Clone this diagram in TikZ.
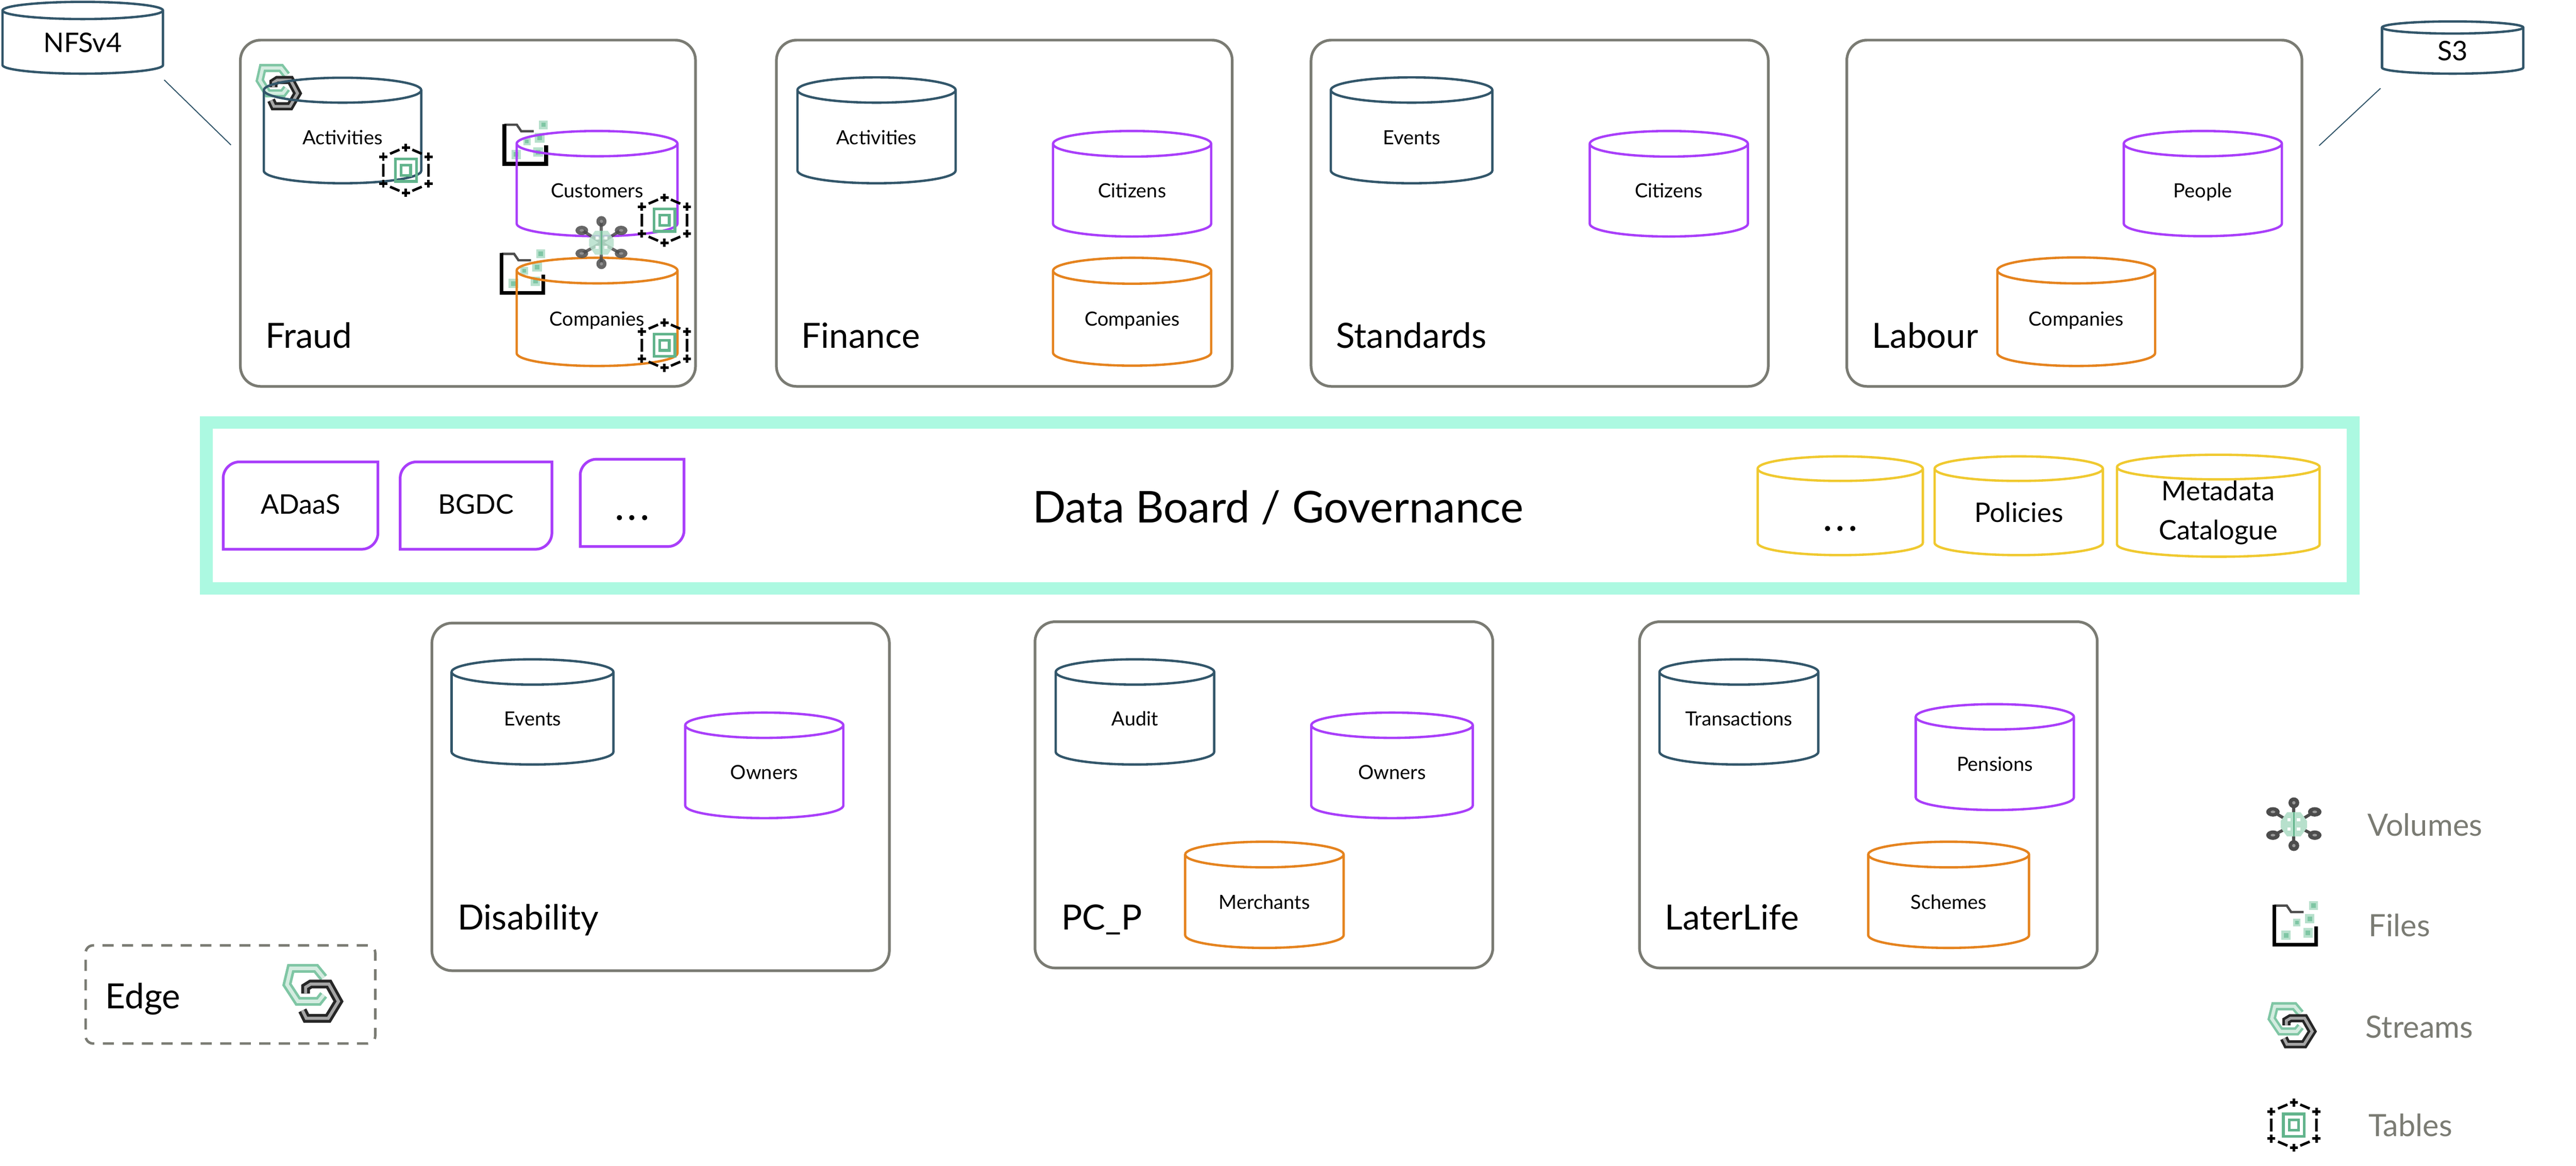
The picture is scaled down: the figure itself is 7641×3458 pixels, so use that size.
\documentclass[tikz,border=0pt]{standalone}
\usepackage{fontspec}
\setmainfont{Lato}
\usetikzlibrary{shapes.geometric}
\definecolor{dbdark}{HTML}{32566A}
\definecolor{dbpurple}{HTML}{A93EFA}
\definecolor{dborange}{HTML}{E5831E}
\definecolor{dbyellow}{HTML}{F0C92F}
\definecolor{mintbar}{HTML}{ACF9E1}
\definecolor{boxgrey}{HTML}{7A7B73}
\definecolor{icongreen}{HTML}{62B48C}
\definecolor{iconlight}{HTML}{B7E0CC}
\definecolor{iconmid}{HTML}{7FC6A4}
\tikzset{
  areabox/.style={draw=boxgrey,line width=8pt,rectangle,rounded corners=60pt,inner sep=0pt},
  title/.style={anchor=base west,inner sep=0pt,font=\fontsize{103}{124}\selectfont},
  dbcyl/.style={cylinder,shape border rotate=90,anchor=shape center,line width=7pt,inner sep=0pt,
    align=center,font=\fontsize{58}{70}\selectfont,text height=42pt,text depth=0pt},
  bigcyl/.style={font=\fontsize{80}{116}\selectfont,text height=57pt},
  rolelabel/.style={anchor=base,inner sep=0pt,font=\fontsize{80}{96}\selectfont},
  legendtext/.style={anchor=base west,inner sep=0pt,text=boxgrey,font=\fontsize{91}{110}\selectfont},
  link/.style={draw=dbdark,line width=3pt},
}
\newcommand\bigdots{{\fontsize{120}{120}\selectfont.\kern9pt.\kern9pt.}}
% name, x1, x2, y1, y2, title, title x, title baseline
\newcommand\areabx[8]{%
  \pgfmathsetmacro\abw{#3-#2}\pgfmathsetmacro\abh{#5-#4}%
  \node[areabox,minimum width=\abw pt,minimum height=\abh pt] (#1) at ({(#2+#3)/2},{(#4+#5)/2}) {};
  \node[title] (#1title) at (#7,#8) {#6};
}
% [opts], name, x1, x2, y1, y-of-ellipse-bottom, y2, colour, text
\newcommand\dbcyln[9][]{%
  \pgfmathsetmacro\dbw{#4-#3-7}\pgfmathsetmacro\dbh{#7-#5-7}%
  \pgfmathsetmacro\dbry{(#6-#5-7)/2}\pgfmathsetmacro\dbasp{\dbry/(\dbw/2)}%
  \node[dbcyl,draw=#8,text width=\dbw pt,minimum width=\dbw pt,minimum height=\dbh pt,shape aspect=\dbasp,#1] (#2) at ({(#3+#4)/2},{(#5+#7)/2}) {#9};
}
% name, x1, x2, y1, y2, baseline, text
\newcommand\rolebx[7]{%
  \draw[draw=dbpurple,line width=8pt,line join=miter]
    (#2,#5) -- (#2,#4+48) .. controls (#2,#4+22) and (#2+22,#4) .. (#2+48,#4)
    -- (#3,#4) -- (#3,#5-48) .. controls (#3,#5-22) and (#3-22,#5) .. (#3-48,#5) -- cycle;
  \node[rolelabel] (#1) at ({(#2+#3)/2},#6) {#7};
}
\newcommand\tableicon[2]{%
  \begin{scope}[shift={(#1,#2)}]
    \foreach \px/\py in {0/-67,0/67,-67/-40,67/-40,-67/40,67/40}
      \draw[black,line width=7.5pt] (\px-12,\py) -- (\px+12,\py) (\px,\py-12) -- (\px,\py+12);
    \draw[black,line width=7.5pt] (-67,-19) -- (-67,19) (67,-19) -- (67,19)
      (-47,-49) -- (-19,-61) (47,-49) -- (19,-61) (-47,49) -- (-19,61) (47,49) -- (19,61);
    \draw[icongreen,line width=8pt] (-31,-33) rectangle (31,33);
    \draw[icongreen,line width=8pt] (-14,-15) rectangle (14,15);
  \end{scope}}
\newcommand\foldericon[2]{%
  \begin{scope}[shift={(#1,#2)}]
    \draw[black!70,line width=7pt] (92,31) -- (55,31) -- (42,12) -- (5,12);
    \draw[black,line width=11pt,line join=miter] (5,10) -- (5,128) -- (129,128) -- (129,73);
    \foreach \px/\py/\pr in {121/12/13,110/51/14,72/62/11,105/93/14,40/100/14}{
      \fill[iconlight] (\px-\pr,\py-\pr) rectangle (\px+\pr,\py+\pr);
      \fill[iconmid] (\px-\pr/2,\py-\pr/2) rectangle (\px+\pr/2,\py+\pr/2);
    }
  \end{scope}}
% x, y, width, height, band
\newcommand\streamicon[5]{%
  \begin{scope}[shift={(#1,#2)},xscale=#3,yscale=#4,line join=miter]
    \draw[iconmid,line width=#5pt] (.66,.24) -- (.54,.08) -- (.15,.08) -- (.09,.355) -- (.26,.64) -- (.58,.64) -- (.66,.53);
    \draw[iconlight!60,line width=.4*#5pt] (.66,.24) -- (.54,.08) -- (.15,.08) -- (.09,.355) -- (.26,.64) -- (.58,.64) -- (.66,.53);
    \draw[black!85,line width=#5pt] (.38,.507) -- (.38,.40) -- (.46,.346) -- (.74,.346) -- (.89,.64) -- (.73,.927) -- (.39,.927) -- (.33,.793);
    \draw[black!35,line width=.35*#5pt] (.38,.507) -- (.38,.40) -- (.46,.346) -- (.74,.346) -- (.89,.64) -- (.73,.927) -- (.39,.927) -- (.33,.793);
  \end{scope}}
% cx, cy, xscale, yscale, opacity
\newcommand\volumeicon[5]{%
  \begin{scope}[shift={(#1,#2)},xscale=#3,yscale=#4,opacity=#5]
    \foreach \px/\py in {0/-64,0/63,-60/-37,60/-37,-60/32,60/32}
      \draw[black!70,line width=9pt] (0,0) -- (\px,\py);
    \fill[iconlight] (-39,-10) -- (-20,-36) -- (20,-36) -- (39,-10) -- (39,10) -- (20,36) -- (-20,36) -- (-39,10) -- cycle;
    \draw[icongreen,line width=4pt] (0,-36) -- (0,36);
    \foreach \px/\py in {-14/-14,14/-14,-14/14,14/14}
      \fill[white] (\px-5,\py-5) rectangle (\px+5,\py+5);
    \foreach \px/\py in {0/-64,0/63}{
      \fill[black!70] (\px,\py) circle[radius=16];
      \fill[black!40] (\px,\py) circle[radius=5];}
    \foreach \px/\py in {-62/-37,62/-37,-62/32,62/32}{
      \fill[black!70] (\px,\py) ellipse[x radius=20,y radius=14];
      \fill[black!40] (\px,\py) ellipse[x radius=7,y radius=4];}
  \end{scope}}
\begin{document}
\begin{tikzpicture}[x=1pt,y=-1pt]
\useasboundingbox (0,0) rectangle (7641,3458);
\fill[white] (0,0) rectangle (7641,3458);

% workspace boxes
\areabx{fraud}{713}{2063}{119}{1146}{Fraud}{787}{1033}
\areabx{finance}{2303}{3655}{119}{1146}{Finance}{2377}{1033}
\areabx{standards}{3889}{5245}{119}{1146}{Standards}{3963}{1033}
\areabx{labour}{5478}{6828}{119}{1146}{Labour}{5553}{1033}
\areabx{disability}{1281}{2638}{1848}{2879}{Disability}{1357}{2757}
\areabx{pcp}{3070}{4428}{1844}{2871}{PC\_P}{3148}{2757}
\areabx{laterlife}{4863}{6221}{1844}{2871}{LaterLife}{4938}{2757}

% icons that lie beneath the cylinders
\foldericon{1491}{358}
\foldericon{1483}{741}
\streamicon{758}{191}{140}{134}{24}

% external stores and their links
\dbcyln[bigcyl,text height=57pt]{nfs}{4}{487}{2}{60}{222}{dbdark}{NFSv4}
\dbcyln[bigcyl]{sthree}{7062}{7488}{60}{103}{222}{dbdark}{S3}
\coordinate (nfsend) at (487,237);
\coordinate (fraudend) at (685,430);
\coordinate (sthreeend) at (7061,262);
\coordinate (labourend) at (6879,432);
\draw[link] (nfsend) -- (fraudend);
\draw[link] (sthreeend) -- (labourend);

% Fraud
\dbcyln{fraudAct}{779}{1253}{227}{308}{547}{dbdark}{Activities}
\dbcyln{fraudCust}{1529}{2013}{385}{467}{704}{dbpurple}{Customers}
\dbcyln{fraudComp}{1529}{2013}{761}{844}{1089}{dborange}{Companies}
% Finance
\dbcyln{finAct}{2362}{2838}{226}{308}{547}{dbdark}{Activities}
\dbcyln{finCit}{3120}{3596}{385}{468}{705}{dbpurple}{Citizens}
\dbcyln{finComp}{3120}{3596}{761}{845}{1088}{dborange}{Companies}
% Standards
\dbcyln{stdEv}{3944}{4430}{226}{308}{547}{dbdark}{Events}
\dbcyln{stdCit}{4712}{5188}{385}{468}{705}{dbpurple}{Citizens}
% Labour
\dbcyln{labPeople}{6296}{6772}{385}{467}{704}{dbpurple}{People}
\dbcyln{labComp}{5921}{6396}{760}{844}{1089}{dborange}{Companies}
% Disability
\dbcyln{disEv}{1336}{1823}{1952}{2034}{2271}{dbdark}{Events}
\dbcyln{disOwn}{2029}{2505}{2110}{2192}{2430}{dbpurple}{Owners}
% PC_P
\dbcyln{pcAudit}{3128}{3605}{1952}{2034}{2271}{dbdark}{Audit}
\dbcyln{pcOwn}{3886}{4372}{2110}{2192}{2430}{dbpurple}{Owners}
\dbcyln{pcMerch}{3512}{3989}{2493}{2576}{2815}{dborange}{Merchants}
% LaterLife
\dbcyln{latTrans}{4919}{5397}{1952}{2034}{2271}{dbdark}{Transactions}
\dbcyln{latPens}{5679}{6155}{2085}{2167}{2406}{dbpurple}{Pensions}
\dbcyln{latSchem}{5538}{6022}{2493}{2576}{2815}{dborange}{Schemes}

% icons over the cylinders
\tableicon{1204}{505}
\tableicon{1971}{653}
\tableicon{1971}{1024}
\volumeicon{1784}{720}{.94}{.99}{.85}

% governance band
\node[draw=mintbar,line width=37pt,rectangle,inner sep=0pt,minimum width=6368pt,minimum height=492pt] (board) at (3796,1499.5) {};
\node[anchor=center,inner sep=0pt,font=\fontsize{130}{156}\selectfont] (boardtitle) at (3791,1506) {Data Board / Governance};
\rolebx{adaas}{662}{1121}{1370}{1629}{1525}{ADaaS}
\rolebx{bgdc}{1187}{1637}{1370}{1629}{1525}{BGDC}
\rolebx{moreroles}{1721}{2029}{1362}{1621}{1542}{\bigdots}
\dbcyln[bigcyl]{moredocs}{5210}{5707}{1350}{1430}{1650}{dbyellow}{\raisebox{-26pt}{\bigdots}}
\dbcyln[bigcyl]{policies}{5735}{6241}{1350}{1430}{1650}{dbyellow}{Policies}
\dbcyln[bigcyl,text height=,text depth=]{metadata}{6276}{6884}{1350}{1430}{1650}{dbyellow}{Metadata\\Catalogue}

% edge
\node[draw=boxgrey,line width=7.5pt,dash pattern=on 33pt off 25pt,rectangle,rounded corners=22pt,inner sep=0pt,minimum width=859pt,minimum height=291pt] (edgebox) at (683.5,2949.5) {};
\node[title] (edgetitle) at (313,2992) {Edge};
\streamicon{834}{2858}{191}{175}{26}

% legend
\volumeicon{6804}{2445}{1}{1}{1}
\foldericon{6741}{2674}
\streamicon{6725}{2974}{150}{133}{24}
\tableicon{6804}{3337}
\node[legendtext] (lvol) at (7022,2479) {Volumes};
\node[legendtext] (lfile) at (7026,2778) {Files};
\node[legendtext] (lstream) at (7017,3078) {Streams};
\node[legendtext] (ltable) at (7025,3370) {Tables};
\end{tikzpicture}
\end{document}
